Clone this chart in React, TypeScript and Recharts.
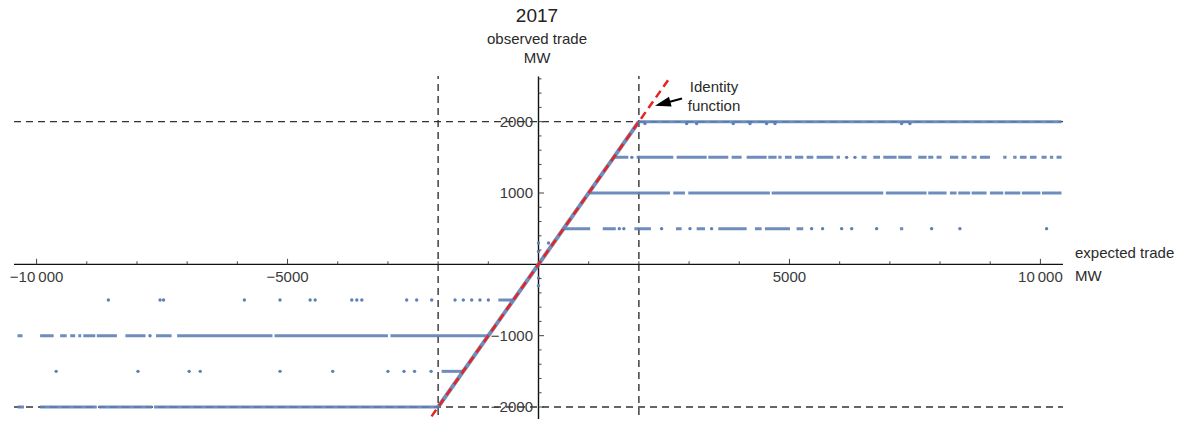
import React from 'react';
import { ComposedChart, XAxis, YAxis, Line, Scatter, ReferenceLine, ReferenceDot } from 'recharts';

const W = 1186;
const H = 427;
const BLUE = '#5E81B5';
const RED = '#E8231F';
const FONT = '"Liberation Sans", Arial, sans-serif';

const X_DOMAIN = [-10450, 10450];
const Y_DOMAIN = [-2280, 2640];
const Y_AXIS_SPAN = [-2217, 2633];

// tick values
const xMajorTicks = [-10000, -5000, 5000, 10000];
const xMinorTicks = [-9000, -8000, -7000, -6000, -4000, -3000, -2000, -1000, 1000, 2000, 3000, 4000, 6000, 7000, 8000, 9000];
const xTickLabels = ['−10\u2009000', '−5000', '5000', '10\u2009000'];
const yMajorTicks = [-2000, -1000, 1000, 2000];
const yMinorTicks = [-2200, -1800, -1600, -1400, -1200, -800, -600, -400, -200, 200, 400, 600, 800, 1200, 1400, 1600, 1800, 2200, 2400, 2600];
const yTickLabels = ['−2000', '−1000', '1000', '2000'];

// limits (dashed)
const limitsX = [-2000, 2000];
const limitsY = [-2000, 2000];

// observed trade levels, runs of dense points [from, to] in expected trade MW
const runsP2000 = [[2000, 10420]];
const dotsP2000 = [2121, 2951, 3151, 3881, 4213, 4545, 4711, 7234, 7400];

const runsP1500 = [
  [1500, 1790], [1955, 2686], [2752, 3350], [3383, 3781], [3848, 4047], [4147, 4545], [4578, 4744],
  [4777, 4844], [4910, 5043], [5109, 5275], [5342, 5475], [5541, 5873], [5939, 6006], [6437, 6537],
  [6670, 6803], [6869, 7135], [7168, 7433], [7566, 7732], [7765, 7865], [7931, 8031], [8197, 8363],
  [8429, 8529], [8629, 8728], [8795, 8994], [9259, 9325], [9458, 9525], [9591, 9724], [9790, 9923],
  [10023, 10123], [10189, 10255], [10322, 10421],
];
const dotsP1500 = [1860, 6139, 6305];

const runsP1000 = [
  [1000, 2619], [2686, 2918], [2985, 4611], [4645, 6869], [6922, 7732], [7765, 8130], [8197, 8330],
  [8363, 8600], [8629, 8927], [8994, 9260], [9290, 9600], [9630, 10000], [10030, 10420],
];

const runsP500 = [
  [500, 1030], [1280, 1540], [1910, 2240], [2739, 2852], [3151, 3317], [3582, 4147], [4313, 4445],
  [4512, 5010], [5142, 5275], [7201, 7267],
];
const dotsP500 = [1610, 1700, 2453, 3018, 3449, 5441, 5660, 6040, 6240, 6736, 7832, 8396, 10123];

const runsM500 = [[-800, -500]];
const dotsM500 = [-8570, -7540, -7470, -5860, -5150, -4550, -4450, -3720, -3620, -3520, -2626, -2427, -2128, -1663, -1498, -1331, -1166, -999];

const runsM1000 = [
  [-10380, -10280], [-9930, -9660], [-9530, -9400], [-9330, -9230], [-9170, -9110], [-9070, -8830],
  [-8800, -8400], [-8230, -7830], [-7620, -7310], [-7200, -5300], [-5260, -3000], [-2950, -1000],
];
const dotsM1000 = [-7740];

const runsM1500 = [[-1930, -1500]];
const dotsM1500 = [-9610, -7980, -6960, -6740, -5150, -4100, -3000, -2680, -2470, -2140];

const runsM2000 = [[-10380, -10250], [-9930, -8800], [-8760, -7700], [-7660, -2000]];

// points on the identity part and a few stray points near the origin
const diagonal = [[-2000, -2000], [2000, 2000]];
const strayPoints = [[0, 300], [0, 180], [200, 300], [0, -190], [0, -300]];
const identityLine = [[-2280, -2280], [2630, 2630]];

const levels = [
  { level: 2000, runs: runsP2000, dots: dotsP2000, dotLevel: 1975 },
  { level: 1500, runs: runsP1500, dots: dotsP1500, dotLevel: 1500 },
  { level: 1000, runs: runsP1000, dots: [], dotLevel: 1000 },
  { level: 500, runs: runsP500, dots: dotsP500, dotLevel: 500 },
  { level: -500, runs: runsM500, dots: dotsM500, dotLevel: -500 },
  { level: -1000, runs: runsM1000, dots: dotsM1000, dotLevel: -1000 },
  { level: -1500, runs: runsM1500, dots: dotsM1500, dotLevel: -1500 },
  { level: -2000, runs: runsM2000, dots: [], dotLevel: -2000 },
];

const runsToPoints = (runs: number[][], level: number) =>
  runs.flatMap(([a, b]) => [{ x: a, y: level }, { x: b, y: level }, { x: b, y: null }]);

const dotPoints = levels.flatMap((l) => l.dots.map((x) => ({ x, y: l.dotLevel })))
  .concat(strayPoints.map(([x, y]) => ({ x, y })));

const SmallDot = (p: any) => <circle cx={p.cx} cy={p.cy} r={1.7} fill={BLUE} />;

const labelStyle = { fontFamily: FONT, fontSize: 15, fill: '#3a3a3a' };

export default function App() {
  return (
    <div style={{ position: 'relative', width: W, height: H, margin: -8, fontFamily: FONT, color: '#2a2a2a', background: '#fff' }}>
      <ComposedChart width={W} height={H} margin={{ top: 76, right: 123, bottom: 0, left: 14 }}>
        <XAxis type="number" dataKey="x" domain={X_DOMAIN} allowDataOverflow hide />
        <YAxis type="number" dataKey="y" domain={Y_DOMAIN} allowDataOverflow hide />

        {limitsX.map((x) => (
          <ReferenceLine key={`lx${x}`} x={x} stroke="#333" strokeWidth={1.4} strokeDasharray="7 5" />
        ))}
        {limitsY.map((y) => (
          <ReferenceLine key={`ly${y}`} y={y} stroke="#333" strokeWidth={1.4} strokeDasharray="7 5" />
        ))}

        <ReferenceLine y={0} stroke="#111" strokeWidth={1.4} />
        <ReferenceLine
          segment={[{ x: 0, y: Y_AXIS_SPAN[0] }, { x: 0, y: Y_AXIS_SPAN[1] }]}
          stroke="#111"
          strokeWidth={1.4}
        />

        {levels.map((l) => (
          <Line
            key={`lvl${l.level}`}
            data={runsToPoints(l.runs, l.level)}
            dataKey="y"
            stroke={BLUE}
            strokeWidth={3}
            strokeOpacity={0.9}
            dot={false}
            activeDot={false}
            isAnimationActive={false}
          />
        ))}
        <Line
          data={diagonal.map(([x, y]) => ({ x, y }))}
          dataKey="y"
          stroke={BLUE}
          strokeWidth={4}
          strokeOpacity={0.9}
          dot={false}
          activeDot={false}
          isAnimationActive={false}
        />
        <Scatter data={dotPoints} dataKey="y" shape={SmallDot} isAnimationActive={false} />
        <Line
          data={identityLine.map(([x, y]) => ({ x, y }))}
          dataKey="y"
          stroke={RED}
          strokeWidth={2.5}
          strokeDasharray="8 5"
          dot={false}
          activeDot={false}
          isAnimationActive={false}
        />

        {xMinorTicks.map((t) => (
          <ReferenceDot key={`xm${t}`} x={t} y={0} r={1}
            shape={(p: any) => <line x1={p.cx} y1={p.cy} x2={p.cx} y2={p.cy - 3} stroke="#444" strokeWidth={1} />} />
        ))}
        {xMajorTicks.map((t, i) => (
          <ReferenceDot key={`xM${t}`} x={t} y={0} r={1}
            shape={(p: any) => (
              <g>
                <line x1={p.cx} y1={p.cy} x2={p.cx} y2={p.cy - 5.5} stroke="#444" strokeWidth={1} />
                <text x={p.cx} y={p.cy + 18} textAnchor="middle" {...labelStyle}>{xTickLabels[i]}</text>
              </g>
            )} />
        ))}
        {yMinorTicks.map((t) => (
          <ReferenceDot key={`ym${t}`} x={0} y={t} r={1}
            shape={(p: any) => <line x1={p.cx} y1={p.cy} x2={p.cx + 3} y2={p.cy} stroke="#444" strokeWidth={1} />} />
        ))}
        {yMajorTicks.map((t, i) => (
          <ReferenceDot key={`yM${t}`} x={0} y={t} r={1}
            shape={(p: any) => (
              <g>
                <line x1={p.cx} y1={p.cy} x2={p.cx + 5.5} y2={p.cy} stroke="#444" strokeWidth={1} />
                <text x={p.cx - 5.5} y={p.cy + 5.4} textAnchor="end" {...labelStyle}>{yTickLabels[i]}</text>
              </g>
            )} />
        ))}

        {/* arrow pointing at the identity line */}
        <ReferenceDot x={2321} y={2223} r={1}
          shape={(p: any) => (
            <g>
              <line x1={p.cx + 14} y1={p.cy - 3.8} x2={p.cx + 27} y2={p.cy - 7.2} stroke="#000" strokeWidth={2} />
              <polygon
                points={`${p.cx},${p.cy} ${p.cx + 16.6},${p.cy + 0.7} ${p.cx + 14},${p.cy - 9}`}
                fill="#000"
              />
            </g>
          )} />
      </ComposedChart>

      <div style={{ position: 'absolute', left: 437, width: 200, top: 6, textAlign: 'center', fontSize: 19, lineHeight: '19px', color: '#222' }}>2017</div>
      <div style={{ position: 'absolute', left: 437, width: 200, top: 31, textAlign: 'center', fontSize: 15, lineHeight: '15px' }}>observed trade</div>
      <div style={{ position: 'absolute', left: 437, width: 200, top: 50, textAlign: 'center', fontSize: 15, lineHeight: '15px' }}>MW</div>

      <div style={{ position: 'absolute', left: 664, width: 100, top: 77, textAlign: 'center', fontSize: 15, lineHeight: '19px' }}>
        Identity<br />function
      </div>

      <div style={{ position: 'absolute', left: 1075, top: 245, fontSize: 15, lineHeight: '15px' }}>expected trade</div>
      <div style={{ position: 'absolute', left: 1075, top: 268, fontSize: 15, lineHeight: '15px' }}>MW</div>
    </div>
  );
}
